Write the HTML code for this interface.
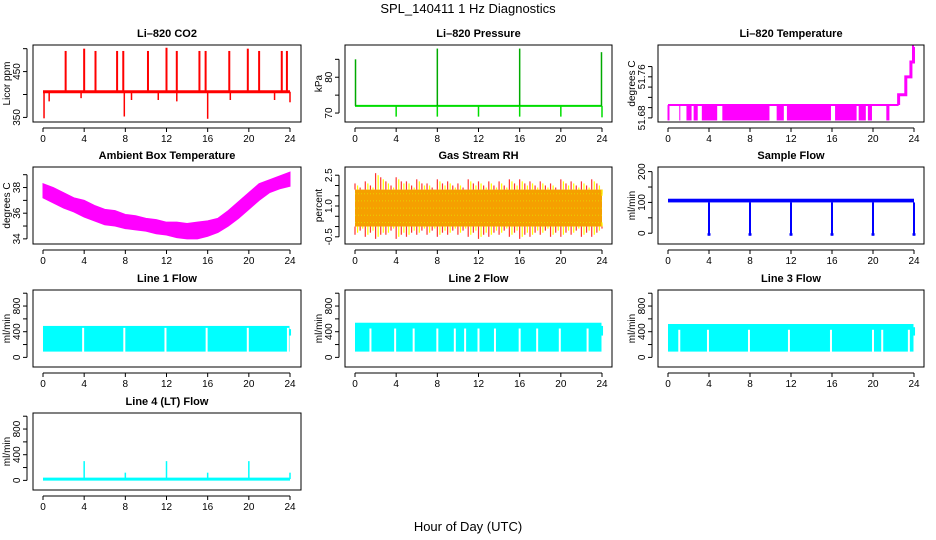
<!DOCTYPE html>
<html><head><meta charset="utf-8">
<style>
html,body{margin:0;padding:0;background:#fff;}
svg{display:block;font-family:"Liberation Sans",sans-serif;}
.tt{font-weight:bold;font-size:11px;text-anchor:middle;}
.tk{font-size:10px;}
</style></head>
<body>
<svg id="chart" width="936" height="540" viewBox="0 0 936 540">
<rect width="936" height="540" fill="#fff"/>
<text x="468" y="13" font-size="13" text-anchor="middle">SPL_140411  1 Hz Diagnostics</text>
<text x="468" y="531" font-size="13" text-anchor="middle">Hour of Day (UTC)</text>
</svg>
<script>
// ---- data ----
const hourTicks = [0,4,8,12,16,20,24];
const co2Base = 406;
const co2SpikeTimes = [2.2,4.0,5.1,7.2,7.8,10.2,12.0,13.0,15.2,15.8,18.1,19.9,21.0,23.2,23.7];
const co2SpikeValues = [495,500,495,495,495,495,502,495,495,495,495,500,495,495,495];
const co2DipTimes = [0.1,0.6,3.7,7.9,8.6,11.2,13.0,16.0,18.2,22.5,24.0];
const co2DipValues = [348,385,392,352,388,388,385,347,388,388,383];
const presBase = 72;
const presSpikeTimes = [0.05,8.0,16.0,23.95];
const presSpikeValues = [85,88,88,87];
const presDipTimes = [4,8,12,16,20,24];
const presDipValues = [69,69,69,69,69,68.8];
const tempBase = 51.705;
const tempLow = 51.675;
const tempDenseStart = [1.1,1.8,2.5,3.3,5.3,10.6,11.6,16.3,18.6,19.5,21.3];
const tempDenseEnd = [1.2,2.3,2.9,4.8,9.9,11.3,15.9,18.4,19.3,19.9,21.6];
const tempStepTimes = [22.5,23.2,23.7,23.95,24.0];
const tempStepValues = [51.725,51.76,51.789,51.818,51.818];
const ambHours = [0,1,2,3,4,5,6,7,8,9,10,11,12,13,14,15,16,17,18,19,20,21,22,23,24];
const ambMax = [38.3,38.0,37.6,37.2,37.0,36.6,36.3,36.2,35.9,35.8,35.6,35.5,35.3,35.3,35.2,35.3,35.4,35.6,36.2,36.9,37.6,38.3,38.6,38.9,39.2];
const ambMin = [37.2,36.8,36.4,36.1,35.7,35.4,35.1,35.0,34.8,34.7,34.6,34.4,34.3,34.1,34.0,34.0,34.2,34.5,35.0,35.6,36.3,37.0,37.6,37.9,38.1];
const rhHours = [0,1,2,3,4,5,6,7,8,9,10,11,12,13,14,15,16,17,18,19,20,21,22,23,24];
const rhMax = [2.1,2.2,2.6,2.2,2.4,2.2,2.3,2.1,2.3,2.2,2.1,2.3,2.2,2.2,2.2,2.3,2.3,2.2,2.2,2.1,2.3,2.2,2.2,2.3,1.8];
const rhMin = [-0.4,-0.5,-0.6,-0.4,-0.6,-0.5,-0.4,-0.4,-0.5,-0.4,-0.4,-0.5,-0.6,-0.5,-0.4,-0.5,-0.6,-0.5,-0.4,-0.5,-0.5,-0.4,-0.5,-0.5,-0.1];
const rhCoreLo = 0.0, rhCoreHi = 1.8;
const sfLo = 100, sfHi = 112;
const sfDipTimes = [4,8,12,16,20,24];
const sfDipValues = [-8,-8,-8,-8,-8,-8];
const l1Lo = 90, l1Hi = 490;
const l1Gaps = [3.9,7.9,11.9,15.9,19.9,23.8];
const l2Lo = 90, l2Hi = 540, l2GapTop = 450;
const l2Gaps = [1.5,3.9,5.7,8.0,9.7,10.7,12.0,13.6,16.0,17.7,19.9,22.6];
const l3Lo = 90, l3Hi = 520, l3GapTop = 430;
const l3Gaps = [1.1,3.9,7.9,11.8,15.9,20.0,20.9,23.5];
const l4Base = 20;
const l4SpikeTimes = [4,8,12,16,20,24];
const l4SpikeValues = [300,120,300,120,300,120];

// ---- layout ----
const NS='http://www.w3.org/2000/svg';
const svg=document.getElementById('chart');
const cols=[{bx:33,bw:268,x0:43,x1:290},{bx:345,bw:267,x0:355,x1:602},{bx:658,bw:266,x0:668,x1:914}];
const rows=[{by:45,bh:77},{by:167,bh:77},{by:290,bh:77},{by:413,bh:77}];
function el(tag,attrs,parent){const e=document.createElementNS(NS,tag);for(const k in attrs)e.setAttribute(k,attrs[k]);(parent||svg).appendChild(e);return e;}

function panel(name,title,r,c,ymin,ymax,ylab,ticks,labels){
  const R=rows[r],C=cols[c];
  const g=el('g',{});
  
  
  const xs=h=>C.x0+(C.x1-C.x0)*h/24;
  const ys=v=>R.by+R.bh-(v-ymin)/(ymax-ymin)*R.bh;
  const t=el('text',{x:C.bx+C.bw/2,y:R.by-8,class:'tt'},g);t.textContent=title;
  
  const plot=el('g',{},g);
  
  const clip='clip-'+name;
  const cp=el('clipPath',{id:clip},g);el('rect',{x:C.bx,y:R.by,width:C.bw,height:R.bh},cp);
  plot.setAttribute('clip-path','url(#'+clip+')');
  const box=el('rect',{x:C.bx,y:R.by,width:C.bw,height:R.bh,fill:'none',stroke:'#000','stroke-width':1},g);
  
  const xa=el('g',{},g);
  const ay=R.by+R.bh+6;
  el('line',{x1:xs(0),x2:xs(24),y1:ay,y2:ay,stroke:'#000'},xa);
  hourTicks.forEach(h=>{el('line',{x1:xs(h),x2:xs(h),y1:ay,y2:ay+4,stroke:'#000'},xa);
    const tx=el('text',{x:xs(h),y:ay+14,class:'tk','text-anchor':'middle'},xa);tx.textContent=h;});
  const ya=el('g',{},g);
  const ax=C.bx-6;
  el('line',{x1:ax,x2:ax,y1:ys(ticks[0]),y2:ys(ticks[ticks.length-1]),stroke:'#000'},ya);
  ticks.forEach((v,i)=>{el('line',{x1:ax-4,x2:ax,y1:ys(v),y2:ys(v),stroke:'#000'},ya);
    if(labels[i]!==''){const tx=el('text',{x:0,y:0,class:'tk','text-anchor':'middle',transform:`translate(${ax-7},${ys(v)}) rotate(-90)`},ya);tx.textContent=labels[i];}});
  const yl=el('text',{x:0,y:0,class:'tk','text-anchor':'middle',transform:`translate(${C.bx-23},${R.by+R.bh/2}) rotate(-90)`},g);yl.textContent=ylab;
  
  return {xs,ys,plot};
}
function vline(p,x,y1,y2,col,w){el('line',{x1:x,x2:x,y1:y1,y2:y2,stroke:col,'stroke-width':w||1},p);}

{const P=panel('co2','Li\u2013820 CO2',0,0,340,508,'Licor ppm',[350,400,450,500],['350','','450','']);
 el('line',{x1:P.xs(0),x2:P.xs(24),y1:P.ys(co2Base),y2:P.ys(co2Base),stroke:'#f00','stroke-width':3},P.plot);
 co2SpikeTimes.forEach((t,i)=>vline(P.plot,P.xs(t),P.ys(co2Base),P.ys(co2SpikeValues[i]),'#f00',2));
 co2DipTimes.forEach((t,i)=>vline(P.plot,P.xs(t),P.ys(co2Base),P.ys(co2DipValues[i]),'#f00',1.5));}
{const P=panel('pressure','Li\u2013820 Pressure',0,1,67.5,89,'kPa',[70,75,80,85],['70','','80','']);
 el('line',{x1:P.xs(0),x2:P.xs(24),y1:P.ys(presBase),y2:P.ys(presBase),stroke:'#0d0','stroke-width':2},P.plot);
 presSpikeTimes.forEach((t,i)=>vline(P.plot,P.xs(t),P.ys(presBase),P.ys(presSpikeValues[i]),'#0a0',1.5));
 presDipTimes.forEach((t,i)=>vline(P.plot,P.xs(t),P.ys(presBase),P.ys(presDipValues[i]),'#0d0',1.5));}
{const P=panel('li820-temp','Li\u2013820 Temperature',0,2,51.672,51.822,'degrees C',[51.68,51.70,51.72,51.74,51.76,51.78],['51.68','','','','51.76','']);
 el('line',{x1:P.xs(0),x2:P.xs(22.5),y1:P.ys(tempBase),y2:P.ys(tempBase),stroke:'#f0f','stroke-width':2},P.plot);
 vline(P.plot,P.xs(0.05),P.ys(tempBase),P.ys(tempLow),'#f0f',2);
 tempDenseStart.forEach((s,i)=>{el('rect',{x:P.xs(s),y:P.ys(tempBase),width:P.xs(tempDenseEnd[i])-P.xs(s),height:P.ys(tempLow)-P.ys(tempBase),fill:'#f0f'},P.plot);});
 let pts=[[P.xs(22.5),P.ys(tempBase)]];let prev=tempBase;
 tempStepTimes.forEach((t,i)=>{pts.push([P.xs(t),P.ys(prev)]);pts.push([P.xs(t),P.ys(tempStepValues[i])]);prev=tempStepValues[i];});
 el('polyline',{points:pts.map(p=>p.join(',')).join(' '),fill:'none',stroke:'#f0f','stroke-width':3},P.plot);}
{const P=panel('ambient-temp','Ambient Box Temperature',1,0,33.6,39.6,'degrees C',[34,35,36,37,38,39],['34','','36','','38','']);
 const up=ambHours.map((h,i)=>P.xs(h)+','+P.ys(ambMax[i]));const dn=ambHours.map((h,i)=>P.xs(h)+','+P.ys(ambMin[i])).reverse();
 el('polygon',{points:up.concat(dn).join(' '),fill:'#f0f',stroke:'#f0f','stroke-width':1},P.plot);}
{const P=panel('rh','Gas Stream RH',1,1,-0.85,2.9,'percent',[-0.5,0,0.5,1.0,1.5,2.0,2.5],['-0.5','','','1.0','','','2.5']);
 el('rect',{x:P.xs(0),y:P.ys(rhCoreHi),width:P.xs(24)-P.xs(0),height:P.ys(rhCoreLo)-P.ys(rhCoreHi),fill:'#f5a000'},P.plot);
 rhHours.forEach((h,i)=>{for(let k=0;k<4;k++){const x=P.xs(Math.min(24,h+k*0.25));
   vline(P.plot,x,P.ys(rhCoreHi),P.ys(rhMax[i]-k*0.1),k%2?'#ff0':'#f33',1.2);
   vline(P.plot,x,P.ys(rhCoreLo),P.ys(rhMin[i]+k*0.1),k%2?'#ff0':'#f33',1.2);}});
 for(let v=0.2;v<rhCoreHi;v+=0.35) el('line',{x1:P.xs(0),x2:P.xs(24),y1:P.ys(v),y2:P.ys(v),stroke:'#e8d000','stroke-width':1,'stroke-dasharray':'1 2'},P.plot);}
{const P=panel('sample-flow','Sample Flow',1,2,-35,215,'ml/min',[0,50,100,150,200],['0','','100','','200']);
 el('rect',{x:P.xs(0),y:P.ys(sfHi),width:P.xs(24)-P.xs(0),height:P.ys(sfLo)-P.ys(sfHi),fill:'#00f'},P.plot);
 sfDipTimes.forEach((t,i)=>{vline(P.plot,P.xs(t),P.ys(sfLo),P.ys(sfDipValues[i]),'#00f',2);
   el('rect',{x:P.xs(t)-1.5,y:P.ys(0),width:3,height:P.ys(sfDipValues[i])-P.ys(0),fill:'#00f'},P.plot);});}
const flowTicks=[0,200,400,600,800,1000],flowLabels=['0','','400','','800',''];
function flowPanel(name,title,r,c,lo,hi,gaps,gapTop){
 const P=panel(name,title,r,c,-150,1050,'ml/min',flowTicks,flowLabels);
 el('rect',{x:P.xs(0),y:P.ys(hi),width:P.xs(23.95)-P.xs(0),height:P.ys(lo)-P.ys(hi),fill:'#0ff'},P.plot);
 gaps.forEach(t=>vline(P.plot,P.xs(t),P.ys(lo)+1,P.ys(gapTop),'#fff',2));
 el('rect',{x:P.xs(23.95),y:P.ys(hi-50),width:P.xs(24.1)-P.xs(23.95),height:P.ys(lo+250)-P.ys(hi-50),fill:'#0ff'},P.plot);
}
flowPanel('line1-flow','Line 1 Flow',2,0,l1Lo,l1Hi,l1Gaps,l1Hi-30);
flowPanel('line2-flow','Line 2 Flow',2,1,l2Lo,l2Hi,l2Gaps,l2GapTop);
flowPanel('line3-flow','Line 3 Flow',2,2,l3Lo,l3Hi,l3Gaps,l3GapTop);
{const P=panel('line4-flow','Line 4 (LT) Flow',3,0,-150,1050,'ml/min',flowTicks,flowLabels);
 el('line',{x1:P.xs(0),x2:P.xs(24),y1:P.ys(l4Base),y2:P.ys(l4Base),stroke:'#0ff','stroke-width':3},P.plot);
 l4SpikeTimes.forEach((t,i)=>vline(P.plot,P.xs(t),P.ys(l4Base),P.ys(l4SpikeValues[i]),'#0ff',1.5));}
</script>
</body></html>
